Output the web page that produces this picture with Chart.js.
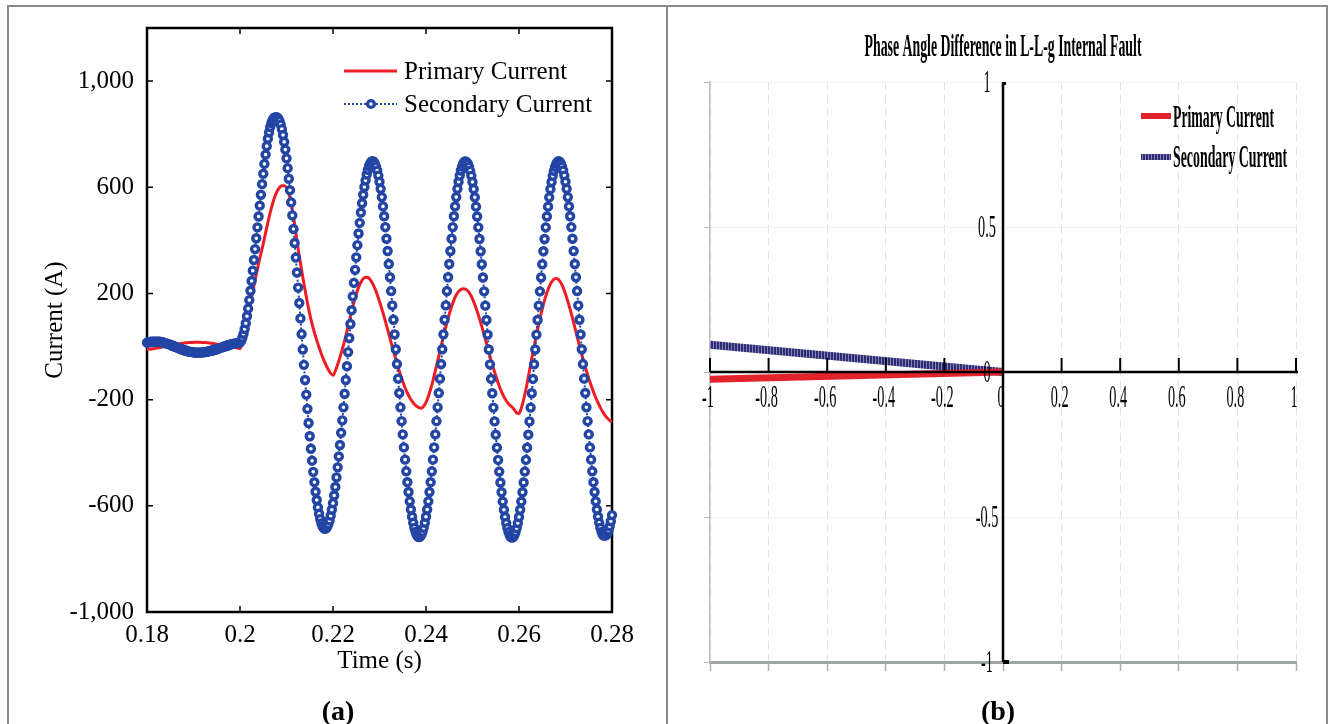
<!DOCTYPE html>
<html>
<head>
<meta charset="utf-8">
<script src="https://cdn.jsdelivr.net/npm/chart.js@4.4.0/dist/chart.umd.min.js"></script>
<style>
    html, body { margin: 0; padding: 0; background: #fff; }
    #wrap { position: relative; width: 1330px; height: 724px; overflow: hidden; }
    canvas { position: absolute; left: 0; top: 0; }
    .frame { position: absolute; left: 7px; top: 5px; width: 1321px; height: 740px; border: 2px solid #8a8a8a; box-sizing: border-box; }
    .divider { position: absolute; left: 666px; top: 5px; width: 2px; height: 740px; background: #8a8a8a; }
    .cap { position: absolute; top: 695px; line-height: 32px; font: bold 28px "Liberation Serif", serif; transform: translateX(-50%); }
</style>
</head>
<body>
<div id="wrap">
    <div class="frame"></div>
    <div class="divider"></div>
    <canvas id="chartA" width="1330" height="724"></canvas>
    <canvas id="chartB" width="1330" height="724"></canvas>
    <div class="cap" style="left:338px">(a)</div>
    <div class="cap" style="left:998px">(b)</div>
</div>
<script>
'use strict'
// ---------- panel (a): currents, sampled from t = 0.18 s ----------
const timeStart = 0.18;
const primaryStep = 0.0005;
const secondaryStep = 0.00025;

const primaryCurrent = [
    -11,-10,-9,-8,-6,-5,-3,-1,1,3,5,7,8,10,11,12,13,14,15,15,16,16,16,16,15,15,14,13,12,11,9,8,6,5,3,1,0,-2,-4,-6,-8,
    20,55,95,140,185,230,272,312,350,388,428,468,505,538,565,585,599,606,606,598,
    575,540,490,430,368,315,262,212,165,122,85,53,24,-3,-28,-50,-70,-87,-101,-108,
    -92,-68,-40,-10,22,58,95,132,167,198,223,242,255,261,260,252,238,219,196,170,
    142,112,80,48,15,-17,-48,-78,-106,-132,-155,-175,-192,-206,-217,-225,-230,-232,-225,-210,
    -188,-160,-128,-92,-55,-17,20,56,90,122,151,175,194,207,215,218,216,209,197,180,
    158,133,105,75,44,12,-20,-52,-82,-110,-136,-160,-180,-197,-210,-220,-228,-238,-250,-252,
    -232,-200,-160,-115,-68,-22,22,65,105,142,175,203,226,243,253,256,252,240,222,198,
    170,140,107,73,38,3,-30,-62,-92,-120,-146,-170,-192,-212,-230,-246,-259,-270,-278,-284
];

const secondaryCurrent = [
    15,16,17,17,18,18,18,18,18,18,18,18,17,16,15,14,13,11,10,8,7,5,3,1,0,-2,-4,-6,-8,-9,-11,-12,-14,-15,-16,-18,
    -19,-20,-20,-21,-22,-22,-23,-23,-23,-23,-23,-22,-22,-21,-21,-20,-19,-18,-17,-16,-15,-14,-12,-11,
    -10,-8,-7,-5,-4,-2,-1,1,2,4,5,7,8,9,10,11,12,13,14,14,15,
    22,33,48,66,88,114,143,175,210,247,286,326,367,408,449,490,531,572,612,651,688,723,755,783,807,827,842,853,860,863,864,863,
    858,849,836,819,797,771,742,709,672,632,589,543,494,443,390,335,279,222,164,106,
    47,-11,-69,-126,-181,-235,-288,-338,-385,-430,-472,-511,-547,-578,-606,-630,-650,-666,-677,-684,-687,
    -685,-679,-669,-655,-637,-615,-590,-561,-529,-493,-455,-414,-371,-325,-278,-229,-178,-126,-74,-21,
    32,85,137,189,240,289,336,382,426,466,505,540,572,601,626,648,666,680,690,696,698,
    696,689,678,663,644,621,594,563,528,491,450,406,360,311,261,209,155,101,46,
    -10,-66,-121,-175,-229,-281,-331,-380,-426,-470,-511,-548,-583,-614,-641,-664,-683,-698,-709,-716,
    -718,-716,-709,-698,-683,-664,-641,-614,-583,-548,-511,-470,-426,-380,-331,-281,-229,-175,-121,-66,
    -10,46,101,155,209,261,311,360,406,450,491,528,563,594,621,644,663,678,689,696,
    697,695,688,677,662,643,620,593,562,527,490,449,405,359,310,260,208,154,100,45,
    -11,-67,-122,-176,-230,-282,-332,-381,-427,-471,-512,-549,-584,-615,-642,-665,-684,-699,-711,-718,
    -720,-718,-711,-699,-684,-665,-642,-615,-584,-549,-512,-471,-427,-381,-332,-282,-230,-176,-122,-67,
    -11,45,100,154,208,260,310,359,405,449,490,527,562,593,620,643,662,677,688,695,
    698,696,689,678,663,644,621,594,563,528,491,450,406,360,311,261,209,155,101,46,
    -10,-66,-121,-175,-229,-281,-331,-380,-426,-470,-511,-548,-583,-614,-641,-664,-683,-698,-708,-712,
    -712,-710,-703,-692,-677,-658,-635
];

const timeTicks = [0.18, 0.2, 0.22, 0.24, 0.26, 0.28];
const timeTickLabels = ['0.18', '0.2', '0.22', '0.24', '0.26', '0.28'];
const currentTicks = [-1000, -600, -200, 200, 600, 1000];
const currentTickLabels = ['-1,000', '-600', '-200', '200', '600', '1,000'];
const seriesNames = ['Primary Current', 'Secondary Current'];

// ---------- panel (b): phase angle difference ----------
const angleX = [-1, 0];
const primaryAngle = [-0.025, 0];
const secondaryAngle = [0.094, 0];
const angleXTicks = [-1, -0.8, -0.6, -0.4, -0.2, 0, 0.2, 0.4, 0.6, 0.8, 1];
const angleXLabels = ['-1', '-0.8', '-0.6', '-0.4', '-0.2', '0', '0.2', '0.4', '0.6', '0.8', '1'];
const angleYTicks = [-1, -0.5, 0, 0.5, 1];
const angleYLabels = ['-1', '-0.5', '0', '0.5', '1'];
const angleTitle = 'Phase Angle Difference in L-L-g Internal Fault';

const SERIF = '"Liberation Serif", "Times New Roman", serif';
const RED = '#ee1c25';
const BLUE = '#2346a5';

function toPoints(values, step) {
    return values.map((v, i) => ({x: Math.round((timeStart + i * step) * 1e5) / 1e5, y: v}));
}

// matlab style box with inward ticks + legend inside the axes
const frameA = {
    id: 'frameA',
    beforeDatasetsDraw(chart) {
        const {ctx, chartArea: a, scales: {x, y}} = chart;
        ctx.save();
        ctx.strokeStyle = '#000';
        ctx.lineWidth = 1.5;
        ctx.beginPath();
        for (let v of timeTicks) {
            const px = x.getPixelForValue(v);
            ctx.moveTo(px, a.bottom); ctx.lineTo(px, a.bottom - 6);
            ctx.moveTo(px, a.top); ctx.lineTo(px, a.top + 6);
        }
        for (let v of currentTicks) {
            const py = y.getPixelForValue(v);
            ctx.moveTo(a.left, py); ctx.lineTo(a.left + 6, py);
            ctx.moveTo(a.right, py); ctx.lineTo(a.right - 6, py);
        }
        ctx.stroke();
        ctx.lineWidth = 2.5;
        ctx.strokeRect(a.left, a.top, a.right - a.left, a.bottom - a.top);
        ctx.restore();
    },
    afterDraw(chart) {
        const ctx = chart.ctx;
        const ds = chart.data.datasets;
        ctx.save();
        ctx.lineWidth = 3;
        ctx.strokeStyle = ds[0].borderColor;
        ctx.beginPath(); ctx.moveTo(344, 71); ctx.lineTo(397, 71); ctx.stroke();
        ctx.lineWidth = 2;
        ctx.strokeStyle = ds[1].borderColor;
        ctx.setLineDash([2, 2]);
        ctx.beginPath(); ctx.moveTo(344, 104); ctx.lineTo(397, 104); ctx.stroke();
        ctx.setLineDash([]);
        ctx.beginPath(); ctx.arc(371, 104, 3.4, 0, Math.PI * 2);
        ctx.fillStyle = '#fff'; ctx.fill();
        ctx.lineWidth = 3.4; ctx.stroke();
        ctx.fillStyle = '#000';
        ctx.font = '25px ' + SERIF;
        ctx.textAlign = 'left';
        ctx.textBaseline = 'middle';
        ctx.fillText(ds[0].label, 404, 72);
        ctx.fillText(ds[1].label, 404, 105);
        ctx.restore();
    }
};

const chartA = new Chart(document.getElementById('chartA').getContext('2d'), {
    type: 'line',
    data: {
        datasets: [{
            label: seriesNames[0],
            data: toPoints(primaryCurrent, primaryStep),
            borderColor: RED,
            borderWidth: 3,
            pointRadius: 0,
            cubicInterpolationMode: 'monotone',
            order: 2
        }, {
            label: seriesNames[1],
            data: toPoints(secondaryCurrent, secondaryStep),
            borderColor: BLUE,
            borderWidth: 2,
            borderDash: [2, 2],
            pointRadius: 3.5,
            pointBorderWidth: 3.4,
            pointBorderColor: BLUE,
            pointBackgroundColor: '#fff',
            clip: 8,
            order: 1
        }]
    },
    options: {
        responsive: false,
        animation: false,
        devicePixelRatio: 1,
        layout: {padding: {left: 0, top: 28, right: 718, bottom: 0}},
        plugins: {legend: {display: false}, tooltip: {enabled: false}},
        scales: {
            x: {
                type: 'linear', min: 0.18, max: 0.28,
                afterBuildTicks: s => { s.ticks = timeTicks.map(v => ({value: v})); },
                afterFit: s => { s.height = 112; },
                grid: {display: false},
                border: {display: false},
                ticks: {
                    padding: 0, color: '#000', autoSkip: false, maxRotation: 0,
                    font: {family: SERIF, size: 25},
                    callback: (v, i) => timeTickLabels[i]
                },
                title: {display: true, text: 'Time (s)', color: '#000', font: {family: SERIF, size: 25}, padding: {top: 0, bottom: 48}}
            },
            y: {
                type: 'linear', min: -1000, max: 1200,
                afterBuildTicks: s => { s.ticks = currentTicks.map(v => ({value: v})); },
                afterFit: s => { s.width = 147; },
                grid: {display: false},
                border: {display: false},
                ticks: {
                    padding: 5, color: '#000', autoSkip: false,
                    font: {family: SERIF, size: 25},
                    callback: (v, i) => currentTickLabels[i]
                },
                title: {display: true, text: 'Current (A)', color: '#000', font: {family: SERIF, size: 25}, padding: {top: 40, bottom: 0}}
            }
        }
    },
    plugins: [frameA]
});

// ---------- panel (b) ----------
const ctxB = document.getElementById('chartB').getContext('2d');
const stripe = document.createElement('canvas');
stripe.width = 3; stripe.height = 1;
const sctx = stripe.getContext('2d');
sctx.fillStyle = '#2d2d70'; sctx.fillRect(0, 0, 2, 1);
sctx.fillStyle = '#8080bb'; sctx.fillRect(2, 0, 1, 1);
const NAVY = ctxB.createPattern(stripe, 'repeat');
const RED_B = '#e2232b';

function squeezed(ctx, text, x, y, sx) {
    ctx.save();
    ctx.translate(x, y);
    ctx.scale(sx, 1);
    ctx.fillText(text, 0, 0);
    ctx.restore();
}

const axesB = {
    id: 'axesB',
    afterDatasetsDraw(chart) {
        const {ctx, chartArea: a, scales: {x, y}} = chart;
        const x0 = x.getPixelForValue(0);
        const y0 = y.getPixelForValue(0);
        ctx.save();
        ctx.strokeStyle = '#000';
        ctx.lineWidth = 2.5;
        ctx.beginPath();
        ctx.moveTo(a.left, y0); ctx.lineTo(a.right + 2, y0);
        ctx.moveTo(x0, a.top); ctx.lineTo(x0, a.bottom);
        ctx.stroke();
        ctx.lineWidth = 2;
        ctx.beginPath();
        for (let v of angleXTicks) {
            const px = x.getPixelForValue(v);
            ctx.moveTo(px, y0); ctx.lineTo(px, y0 - 14);
        }
        ctx.stroke();
        ctx.fillStyle = '#000';
        ctx.fillRect(x0, y.getPixelForValue(-1) - 2, 6, 4);
        ctx.fillRect(x0, y.getPixelForValue(1), 3, 3);

        ctx.font = '31px ' + SERIF;
        ctx.textAlign = 'center';
        ctx.textBaseline = 'middle';
        angleXTicks.forEach((v, i) => squeezed(ctx, angleXLabels[i], x.getPixelForValue(v) - 2, y0 + 27, 0.46));
        angleYTicks.forEach((v, i) => squeezed(ctx, angleYLabels[i], x0 - 16, y.getPixelForValue(v) + 2, 0.46));
        ctx.restore();
    },
    afterDraw(chart) {
        const ctx = chart.ctx;
        const ds = chart.data.datasets;
        ctx.save();
        ctx.fillStyle = '#000';
        ctx.font = 'bold 31px ' + SERIF;
        ctx.textAlign = 'center';
        ctx.textBaseline = 'middle';
        squeezed(ctx, angleTitle, 1003, 48, 277 / ctx.measureText(angleTitle).width);

        // legend
        ctx.lineWidth = 6;
        ctx.strokeStyle = ds[0].borderColor;
        ctx.beginPath(); ctx.moveTo(1141, 116); ctx.lineTo(1171, 116); ctx.stroke();
        ctx.strokeStyle = ds[1].borderColor;
        ctx.beginPath(); ctx.moveTo(1141, 157); ctx.lineTo(1171, 157); ctx.stroke();
        ctx.textAlign = 'left';
        squeezed(ctx, ds[0].label, 1173, 119, 101 / ctx.measureText(ds[0].label).width);
        squeezed(ctx, ds[1].label, 1173, 159, 114 / ctx.measureText(ds[1].label).width);
        ctx.restore();
    }
};

const chartB = new Chart(ctxB, {
    type: 'line',
    data: {
        datasets: [{
            label: seriesNames[0],
            data: angleX.map((v, i) => ({x: v, y: primaryAngle[i]})),
            borderColor: RED_B,
            borderWidth: 7,
            pointRadius: 0,
            order: 1
        }, {
            label: seriesNames[1],
            data: angleX.map((v, i) => ({x: v, y: secondaryAngle[i]})),
            borderColor: NAVY,
            borderWidth: 8,
            pointRadius: 0,
            order: 2
        }]
    },
    options: {
        responsive: false,
        animation: false,
        devicePixelRatio: 1,
        layout: {padding: {left: 710, top: 82, right: 34, bottom: 62}},
        plugins: {legend: {display: false}, tooltip: {enabled: false}},
        scales: {
            x: {
                type: 'linear', min: -1, max: 1,
                afterBuildTicks: s => { s.ticks = angleXTicks.map(v => ({value: v})); },
                afterFit: s => { s.height = 0; },
                grid: {color: '#e3e3e3', lineWidth: 1, drawTicks: true, tickLength: 9, tickColor: '#a9b0b0', tickWidth: 1.5},
                border: {display: true, color: '#9ea7a7', width: 3, dash: [8, 5]},
                ticks: {display: false}
            },
            y: {
                type: 'linear', min: -1, max: 1,
                afterBuildTicks: s => { s.ticks = angleYTicks.map(v => ({value: v})); },
                afterFit: s => { s.width = 0; },
                grid: {color: '#e0e8eb', lineWidth: 1, drawTicks: true, tickLength: 6, tickColor: '#b5b5b5'},
                border: {display: true, color: '#bdbdbd', width: 1.5, dash: [2, 2]},
                ticks: {display: false}
            }
        }
    },
    plugins: [axesB]
});
</script>
</body>
</html>
